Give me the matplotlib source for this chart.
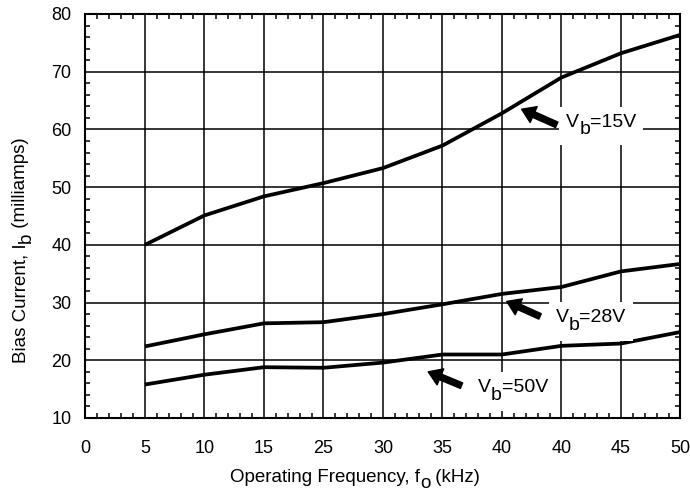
import matplotlib
matplotlib.use("Agg")
import matplotlib.pyplot as plt
from matplotlib.ticker import MultipleLocator
from matplotlib.transforms import Bbox
from matplotlib.patches import Rectangle

plt.rcParams['font.family'] = ['Liberation Sans', 'DejaVu Sans']

# frequency axis is evenly spaced, labels as printed on the sheet
freq_labels = ['0', '5', '10', '15', '25', '30', '35', '40', '40', '45', '50']
pos = [1, 2, 3, 4, 5, 6, 7, 8, 9, 10]

ib_15v = [40.0, 45.1, 48.4, 50.7, 53.3, 57.2, 62.8, 69.0, 73.2, 76.4]
ib_28v = [22.4, 24.5, 26.4, 26.6, 28.0, 29.7, 31.5, 32.7, 35.4, 36.7]
ib_50v = [15.8, 17.5, 18.8, 18.7, 19.6, 21.0, 21.0, 22.5, 22.9, 24.9]

fig = plt.figure(figsize=(6.9, 4.91), dpi=100)
ax = fig.add_axes([0.1239, 0.1487, 0.8623, 0.8228])


def chain(first, pieces, rot=0, **kw):
    # append text pieces after `first`; each drop (pt) lowers the baseline
    out = [first]
    for s, drop in pieces:
        if rot:
            xy, off = (1, 1), (drop, 0)
        else:
            xy, off = (1, 0), (0, -drop)
        out.append(ax.annotate(s, xy=xy, xycoords=out[-1], xytext=off,
                               textcoords='offset points', ha='left',
                               va='bottom', rotation=rot,
                               rotation_mode='anchor',
                               annotation_clip=False, **kw))
    return out


for ys in (ib_15v, ib_28v, ib_50v):
    ax.plot(pos, ys, color='black', lw=2.7, solid_capstyle='butt', zorder=3)

ax.set_xlim(0, 10)
ax.set_ylim(10, 80)
ax.set_xticks(range(len(freq_labels)))
ax.set_xticklabels(freq_labels)
ax.set_yticks(range(10, 81, 10))
ax.xaxis.set_minor_locator(MultipleLocator(0.2))
ax.yaxis.set_minor_locator(MultipleLocator(2))

ax.grid(True, which='major', color='black', lw=1.1)
ax.set_axisbelow(True)
ax.tick_params(which='major', length=0, labelsize=13)
ax.tick_params(axis='x', which='major', pad=15.5)
ax.tick_params(axis='y', which='major', pad=10)
ax.tick_params(which='minor', direction='in', length=3.5, width=1.1,
               top=True, right=True)
for sp in ax.spines.values():
    sp.set_linewidth(1.5)

# axis titles with full-size dropped subscripts
lab = dict(fontsize=13.5)
xl = fig.text(230 / 690, (491 - 481.5) / 491, 'Operating Frequency, f',
              ha='left', va='baseline', **lab)
chain(xl, [('o', 4.5), (' (kHz)', -4.5)], **lab)
yl = fig.text(25 / 690, (491 - 363) / 491, 'Bias Current, I', rotation=90,
              rotation_mode='anchor', ha='left', va='baseline', **lab)
chain(yl, [('b', 4.5), (' (milliamps)', -4.5)], rot=90, **lab)

arrow = dict(width=4.3, headwidth=12.5, headlength=9.5, color='black', shrink=0)
ann = dict(fontsize=14, zorder=5)

labels = []


def vb_label(x, y, volts):
    t = ax.text(x, y, 'V', ha='left', va='baseline', **ann)
    labels.append(chain(t, [('b', 5.5), ('=' + volts, -5.5)], **ann))


ax.annotate('', xy=(7.33, 63.5), xytext=(7.92, 60.8), arrowprops=arrow, zorder=6)
vb_label(8.08, 60.5, '15V')

ax.annotate('', xy=(7.08, 30.2), xytext=(7.64, 27.6), arrowprops=arrow, zorder=6)
vb_label(7.90, 26.6, '28V')

ax.annotate('', xy=(5.76, 18.0), xytext=(6.32, 15.6), arrowprops=arrow, zorder=6)
vb_label(6.60, 14.45, '50V')

# white patch behind each label so the grid lines break around it
fig.canvas.draw()
inv = ax.transData.inverted()
for parts in labels:
    bb = Bbox.union([p.get_window_extent() for p in parts])
    bb = bb.expanded(1.0, 1.0).padded(7)
    (x0, y0), (x1, y1) = inv.transform([[bb.x0, bb.y0], [bb.x1, bb.y1]])
    ax.add_patch(Rectangle((x0, y0), x1 - x0, y1 - y0, fc='white', ec='none',
                           zorder=4))

fig.savefig('out.png', dpi=100)
